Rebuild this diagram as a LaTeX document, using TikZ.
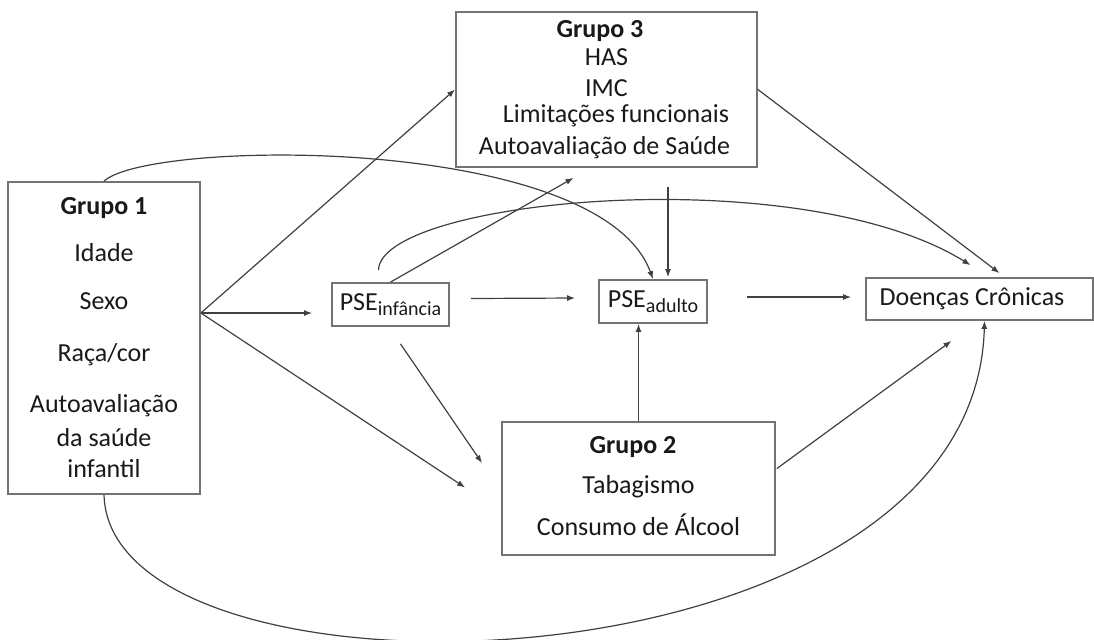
\documentclass[tikz,border=0pt]{standalone}
\usepackage{fontspec}
\setmainfont{Carlito}
\usetikzlibrary{arrows.meta,calc}

\newcommand{\psesub}[1]{PSE\raisebox{-0.45ex}{\fontsize{10}{12}\selectfont #1}}

\begin{document}
\begin{tikzpicture}[x=0.5pt, y=-0.5pt,
    box/.style={draw=black!55, line width=0.9pt, inner sep=0pt, align=center,
      text=black!90, font=\fontsize{13}{16}\selectfont},
    arr/.style={draw=black!75, line width=0.6pt, -{Latex[length=4pt,width=3pt]}}]
    \useasboundingbox (0,0) rectangle (1094,639);
    % boxes
    \node[box, minimum width=96pt, minimum height=156pt] (g1) at (104,338)
      {\textbf{Grupo 1}\\[7.5pt] Idade\hspace*{8pt}\\[8pt] Sexo\hspace*{8pt}\\[10pt]
       Raça/cor\\[9.5pt] Autoavaliação\\[1pt] da saúde\\[-0.5pt] infantil};
    \node[box, minimum width=150.5pt, minimum height=77.5pt] (g3) at (606.5,89.5)
      {\textbf{Grupo 3}\hspace*{6.5pt}\\[-1.8pt] HAS\hspace*{11.5pt}\\[-0.5pt] IMC\hspace*{11.5pt}\\[-3pt]
       \hspace*{9.5pt}Limitações funcionais\\ Autoavaliação de Saúde\hspace*{2pt}};
    \node[box, minimum width=136.5pt, minimum height=66.5pt] (g2) at (638.5,488.5)
      {\textbf{Grupo 2}\hspace*{5.5pt}\\[4pt] Tabagismo\hspace*{11.5pt}\\[5pt] Consumo de Álcool\\[-13pt]};
    \node[box, minimum width=58.5pt, minimum height=21.5pt] (pinf) at (390.5,304.5) {\psesub{infância}};
    \node[box, minimum width=54pt, minimum height=21.5pt] (padu) at (653,301.5) {\psesub{adulto}};
    \node[box, minimum width=113.5pt, minimum height=21pt] (doen) at (979.5,299) {Doenças Crônicas\hspace*{7.5pt}};
    % group 1
    \coordinate (g1fan) at ($(g1.east)+(0,-25)$);
    \draw[arr] (g1fan) -- (g3.west);
    \draw[arr] (g1fan) -- ($(g1fan -| pinf.west)+(-19,0)$);
    \draw[arr] (g1fan) -- ($(g2.west)+(-36,-1)$);
    \draw[arr] (g1.north) .. controls +(46,-42) and +(-53,-145) .. (padu.north);
    \draw[arr] (g1.south) .. controls +(6,226) and +(-10,380) .. ($(doen.south)+(5,0)$);
    % pse infancia
    \draw[arr] (pinf.north) -- ($(g3.south)+(-33,10)$);
    \draw[arr] ($(pinf.north)+(-12,-12)$) .. controls +(2,-71) and +(-171,-106) .. ($(doen.north)+(-9,-12)$);
    \draw[arr] ($(pinf.east)+(21,-6)$) -- ($(padu.west)+(-23,-3.5)$);
    \draw[arr] ($(pinf.south)+(10,17)$) -- ($(g2.north west)+(-19,42)$);
    % group 3
    \draw[arr] ($(padu.north)+(15,-92)$) -- ($(padu.north)+(15,-2)$);
    \draw[arr] (g3.east) -- ($(doen.north)+(20,-4)$);
    % group 2
    \draw[arr] (g2.north) -- (g2.north |- padu.south);
    \draw[arr] ($(g2.east)+(1,-20)$) -- ($(doen.south)+(-28,20)$);
    % pse adulto
    \draw[arr] ($(padu.east)+(39,-4.5)$) -- ($(doen.west)+(-14,-2)$);
\end{tikzpicture}
\end{document}
